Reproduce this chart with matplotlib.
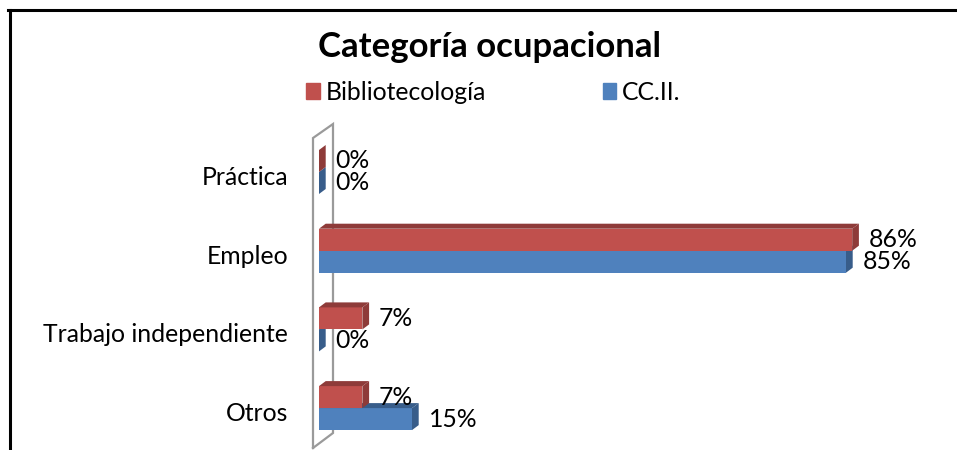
import numpy as np
from matplotlib import pyplot as plt
from matplotlib.patches import Polygon
from matplotlib.lines import Line2D

categories = ['Práctica', 'Empleo', 'Trabajo independiente', 'Otros']
biblio = [0, 86, 7, 7]
ccii = [0, 85, 0, 15]
series_names = ['Bibliotecología', 'CC.II.']
title = 'Categoría ocupacional'

plt.rcParams['font.family'] = ['Lato', 'DejaVu Sans']

RED = '#C0504D'
RED_DARK = '#8E3B39'
BLUE = '#4F81BD'
BLUE_DARK = '#385D8A'

W, H = 957, 450
fig = plt.figure(figsize=(W / 100, H / 100), dpi=100)
ax = fig.add_axes([0, 0, 1, 1])

# pixel mapping: x=0 at px 319, 6.2 px per %, category step 78.7 px
x0_px, x_scale = 319, 6.2
y0_px, y_scale = 172, 78.7
ax.set_xlim(-x0_px / x_scale, (W - x0_px) / x_scale)
ax.set_ylim((H - y0_px) / y_scale, -y0_px / y_scale)
ax.axis('off')

pos = np.arange(len(categories))
h = 22 / y_scale
dx = 6.7 / x_scale
dy = -5 / y_scale
FS = 17.8


def bar3d(y_top, val, front, dark, z):
    ax.barh(y_top + h / 2, val, height=h, left=0, color=front, zorder=z)
    y_bot = y_top + h
    top = Polygon([(0, y_top), (val, y_top), (val + dx, y_top + dy), (dx, y_top + dy)],
                  closed=True, facecolor=dark, edgecolor='none', zorder=z)
    side = Polygon([(val, y_top), (val, y_bot), (val + dx, y_bot + dy), (val + dx, y_top + dy)],
                   closed=True, facecolor=dark, edgecolor='none', zorder=z)
    ax.add_patch(top)
    ax.add_patch(side)


# side wall
wx_f, wx_b = (313 - x0_px) / x_scale, (333 - x0_px) / x_scale
wy_ft, wy_fb = (138 - y0_px) / y_scale, (448 - y0_px) / y_scale
wy_bt, wy_bb = (124 - y0_px) / y_scale, (433 - y0_px) / y_scale
ax.plot([wx_f, wx_f, wx_b, wx_b, wx_f], [wy_fb, wy_ft, wy_bt, wy_bb, wy_fb],
        color='#9A9A9A', lw=1.6, zorder=1, solid_joinstyle='miter')

lab_off = 16.5 / x_scale
for i, (b, c) in enumerate(zip(biblio, ccii)):
    bar3d(pos[i], c, BLUE, BLUE_DARK, 2 + 2 * i)
    bar3d(pos[i] - h, b, RED, RED_DARK, 3 + 2 * i)
    ax.text(b + lab_off, pos[i] - h / 2, f'{b}%', ha='left', va='center',
            fontsize=FS, zorder=20)
    ax.text(c + lab_off, pos[i] + h / 2, f'{c}%', ha='left', va='center',
            fontsize=FS, zorder=20)
    ax.text((288 - x0_px) / x_scale, pos[i] + 5.5 / y_scale, categories[i],
            ha='right', va='center', fontsize=FS)

fig.text(490 / W, 1 - 47 / H, title, ha='center', va='center',
         fontsize=25, fontweight='bold')

handles = [plt.Rectangle((0, 0), 1, 1, color=RED), plt.Rectangle((0, 0), 1, 1, color=BLUE)]
fig.legend(handles, series_names, loc='center', bbox_to_anchor=(493.5 / W, 1 - 92 / H),
           ncol=2, frameon=False, fontsize=FS, handlelength=0.56, handleheight=0.62,
           handletextpad=0.24, columnspacing=4.7, borderpad=0.2)

# outer frame (top and left edges visible)
fig.add_artist(Line2D([8 / W, 1], [1 - 10 / H, 1 - 10 / H], color='black', lw=2.2,
                      transform=fig.transFigure))
fig.add_artist(Line2D([9.5 / W, 9.5 / W], [0, 1 - 10 / H], color='black', lw=2.2,
                      transform=fig.transFigure))

fig.savefig('out.png', dpi=100)
